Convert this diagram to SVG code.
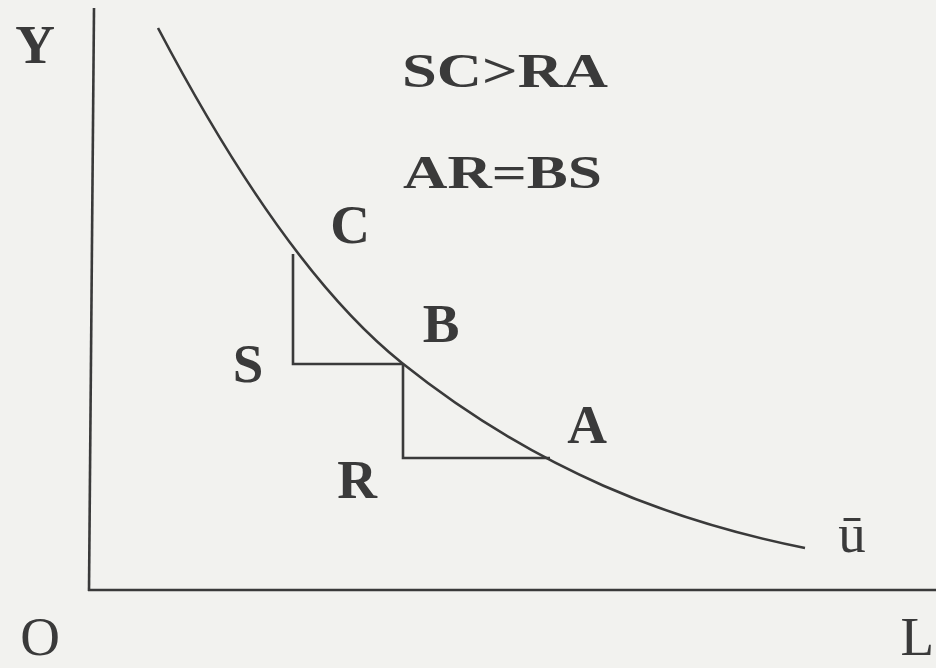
<svg xmlns="http://www.w3.org/2000/svg" width="936" height="668" viewBox="0 0 936 668">
  <style>
    .ln { fill: none; stroke: #3a3a3a; stroke-width: 2.6; stroke-linecap: butt; stroke-linejoin: miter; }
    .lbl { font-family: "Liberation Serif", "Times New Roman", serif; font-weight: bold; font-size: 55px; fill: #3a3a3a; text-anchor: middle; }
    .reg { font-weight: normal; }
    .eq { font-family: "Liberation Serif", "Times New Roman", serif; font-weight: bold; fill: #3a3a3a; }
  </style>
  <rect x="0" y="0" width="936" height="668" fill="#f2f2ef"/>

  <g id="axes">
    <line class="ln" x1="94" y1="8" x2="89" y2="591"/>
    <line class="ln" x1="88" y1="590" x2="936" y2="590"/>
  </g>

  <g id="curve">
    <path class="ln" d="M158,28 C239.3,182.5 320.7,298 402,363 C536.3,470.4 670.7,521.1 805,548"/>
  </g>

  <g id="triangles">
    <polyline class="ln" points="293,254 293,364 403,364"/>
    <polyline class="ln" points="403,364 403,458 550,458"/>
  </g>

  <g id="labels">
    <text class="lbl" x="35" y="63" font-size="58">Y</text>
    <text class="lbl reg" x="40" y="655" font-size="60">O</text>
    <text class="lbl reg" x="934" y="655" font-size="52" style="text-anchor:end">L</text>
    <text class="lbl" x="350" y="243">C</text>
    <text class="lbl" x="441" y="342">B</text>
    <text class="lbl" x="248" y="382">S</text>
    <text class="lbl" x="587" y="443">A</text>
    <text class="lbl" x="357" y="498">R</text>
    <text class="lbl reg" x="852" y="552" font-size="48">ū</text>
  </g>

  <g id="conditions">
    <text class="eq" x="402" y="87" font-size="48" textLength="206" lengthAdjust="spacingAndGlyphs">SC&gt;RA</text>
    <text class="eq" x="403" y="188" font-size="46" textLength="199" lengthAdjust="spacingAndGlyphs">AR=BS</text>
  </g>
</svg>
